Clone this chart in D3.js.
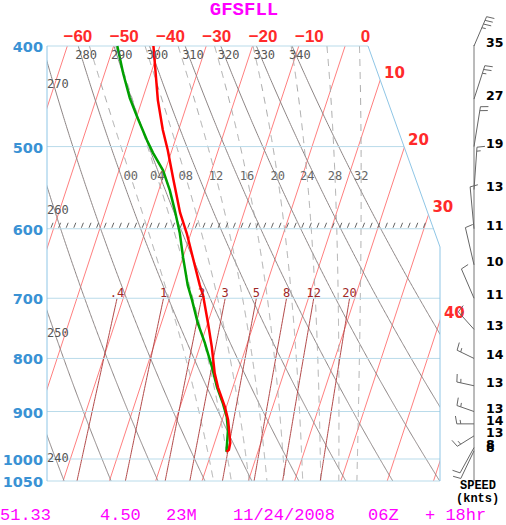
<!DOCTYPE html>
<html>
<head>
<meta charset="utf-8">
<script src="https://cdn.jsdelivr.net/npm/d3@7.9.0/dist/d3.min.js"></script>
<style>
  body { margin: 0; background: #fff; }
  svg { display: block; }
</style>
</head>
<body>
<svg id="chart" width="506" height="525"></svg>
<script>
// ---- chart values ----
const isobars = [400, 500, 600, 700, 800, 900, 1000, 1050];
const isotherms = [-100, -90, -80, -70, -60, -50, -40, -30, -20, -10, 0, 10, 20, 30, 40, 50];
const topTempLabels = [-60, -50, -40, -30, -20, -10, 0];
const sideTempLabels = [10, 20, 30, 40];
const dryAdiabats = [240, 250, 260, 270, 280, 290, 300, 310, 320, 330, 340];
const moistAdiabats = [0, 4, 8, 12, 16, 20, 24, 28, 32];
const moistLabels = ['00', '04', '08', '12', '16', '20', '24', '28', '32'];
const mixingRatios = [0.4, 1, 2, 3, 5, 8, 12, 20];
const mixingLabels = ['.4', '1', '2', '3', '5', '8', '12', '20'];
const hatchLevel = 600;

// temperature profile (hPa, degC)
const tempP = [400, 451, 482, 504, 538, 579, 606, 680, 695, 740, 780, 827, 853, 891, 917, 965, 980, 984];
const tempC = [-41.4, -36.6, -33.4, -30.9, -27.6, -23.8, -20.9, -14.4, -13.0, -9.9, -7.4, -4.9, -3.2, -0.3, 1.3, 3.4, 3.6, 3.2];
// dewpoint profile (hPa, degC)
const dewP = [400, 425, 449, 468, 493, 507, 527, 551, 576, 606, 639, 680, 703, 740, 773, 816, 853, 884, 911, 938, 984];
const dewC = [-49.2, -46.0, -42.8, -39.9, -36.1, -33.9, -30.5, -27.6, -25.1, -22.4, -20.0, -17.0, -15.0, -12.1, -9.2, -5.9, -3.4, -1.0, 0.8, 2.0, 3.2];

// winds
const windP = [400, 450, 500, 550, 600, 650, 700, 750, 800, 850, 900, 925, 950, 975, 982];
const windDir = [47, 39, 22, 10, 347, 330, 313, 294, 281, 275, 278, 270, 256, 234, 230];
const windSpd = [35, 27, 19, 13, 11, 10, 11, 13, 14, 13, 13, 14, 13, 8, 8];

const footer = [
  { text: '51.33', x: 0 }, { text: '4.50', x: 100 }, { text: '23M', x: 166 },
  { text: '11/24/2008', x: 233 }, { text: '06Z', x: 368 }, { text: '+ 18hr', x: 425 }
];

// ---- layout ----
const svg = d3.select('#chart');
const left = 47, topRight = 368, breakX = 440, breakY = 247;

const y = d3.scaleLog().domain([400, 1050]).range([46, 481]);
const xBottom = d3.scaleLinear().domain([0, 40]).range([202, 387.2]);
const skew = 0.329;
const X = (t, p) => xBottom(t) + skew * (y(1050) - y(p));

const rightEdge = (yy) => yy < breakY
  ? topRight + (breakX - topRight) * (yy - y(400)) / (breakY - y(400))
  : breakX;

const samples = d3.range(400, 1050.1, 2);
const line = d3.line().x(d => d[0]).y(d => d[1]);

svg.append('clipPath').attr('id', 'plot')
  .append('polygon')
  .attr('points', [[left, y(400)], [topRight, y(400)], [breakX, breakY], [breakX, y(1050)], [left, y(1050)]].join(' '));

const g = svg.append('g').attr('clip-path', 'url(#plot)');

// isobars
svg.append('g').selectAll('line').data(isobars).join('line')
  .attr('x1', left).attr('x2', p => rightEdge(y(p)))
  .attr('y1', p => y(p)).attr('y2', p => y(p))
  .attr('stroke', '#b9dbea').attr('stroke-width', 1);

// isotherms
g.append('g').selectAll('path').data(isotherms).join('path')
  .attr('d', t => line([[X(t, 1050), y(1050)], [X(t, 400), y(400)]]))
  .attr('stroke', '#ff7f7f').attr('fill', 'none').attr('stroke-width', 1);

// dry adiabats
const dryT = (th, p) => th * Math.pow(p / 1000, 0.2857) - 273.15;
g.append('g').selectAll('path').data(dryAdiabats).join('path')
  .attr('d', th => line(samples.map(p => [X(dryT(th, p), p), y(p)])))
  .attr('stroke', '#8c8484').attr('fill', 'none').attr('stroke-width', 1);

// moist adiabats (pseudo-adiabatic integration from 1000 hPa)
function esat(tc) { return 6.112 * Math.exp(17.67 * tc / (tc + 243.5)); }
function dTdp(p, T) {
  const es = esat(T - 273.15), rs = 0.622 * es / (p - es);
  const Rd = 287.04, cp = 1005.7, Lv = 2.501e6;
  return (Rd * T + Lv * rs) / (p * (cp + Lv * Lv * rs * 0.622 / (Rd * T * T)));
}
function moistProfile(thw) {
  const pts = new Map();
  [[-1, 400], [1, 1050]].forEach(([dir, end]) => {
    let T = thw + 273.15, p = 1000;
    pts.set(1000, T);
    while (dir < 0 ? p > end : p < end) {
      const dp = dir * 1;
      const k1 = dTdp(p, T), k2 = dTdp(p + dp / 2, T + k1 * dp / 2);
      T += k2 * dp; p += dp;
      pts.set(p, T);
    }
  });
  return Array.from(pts.entries()).sort((a, b) => a[0] - b[0]);
}
const moistData = moistAdiabats.map(moistProfile);
g.append('g').selectAll('path').data(moistData).join('path')
  .attr('d', prof => line(prof.map(([p, T]) => [X(T - 273.15, p), y(p)])))
  .attr('stroke', '#a8a8a8').attr('fill', 'none').attr('stroke-width', 1)
  .attr('stroke-dasharray', '7,6');

// mixing ratio lines (1050 -> 700 hPa)
const mixT = (w, p) => {
  const l = Math.log((w * p / (622 + w)) / 6.112);
  return 243.5 * l / (17.67 - l);
};
const mixSamples = d3.range(700, 1050.1, 5);
g.append('g').selectAll('path').data(mixingRatios).join('path')
  .attr('d', w => line(mixSamples.map(p => [X(mixT(w, p), p), y(p)])))
  .attr('stroke', '#b34a4a').attr('fill', 'none').attr('stroke-width', 1);

// hatch ticks along the 600 hPa line
g.append('g').selectAll('line').data(d3.range(51, 425, 7.6)).join('line')
  .attr('x1', d => d).attr('x2', d => d + 2)
  .attr('y1', y(hatchLevel) - 1).attr('y2', y(hatchLevel) - 6)
  .attr('stroke', '#666').attr('stroke-width', 1);

// frame
svg.append('path')
  .attr('d', line([[topRight, y(400)], [breakX, breakY], [breakX, y(1050)]]))
  .attr('stroke', '#8fc6e6').attr('fill', 'none');
svg.append('line').attr('x1', left).attr('x2', left).attr('y1', y(400)).attr('y2', y(1050))
  .attr('stroke', '#8fc6e6');

// profiles
const profLine = d3.line().x(d => X(d[1], d[0])).y(d => y(d[0]));
svg.append('path').datum(dewP.map((p, i) => [p, dewC[i]]))
  .attr('d', profLine).attr('stroke', '#00a000').attr('stroke-width', 2.5).attr('fill', 'none');
svg.append('path').datum(tempP.map((p, i) => [p, tempC[i]]))
  .attr('d', profLine).attr('stroke', '#ff0000').attr('stroke-width', 2.5).attr('fill', 'none');

// ---- labels ----
const minus = s => String(s).replace('-', '\u2212');

svg.append('g').selectAll('text').data(isobars).join('text')
  .attr('x', 43).attr('y', p => y(p) + 6).attr('text-anchor', 'end')
  .attr('font-family', 'DejaVu Sans').attr('font-weight', 'bold').attr('font-size', 14.5)
  .attr('fill', '#3a92d4').text(p => p);

svg.append('g').selectAll('text').data(topTempLabels).join('text')
  .attr('x', t => X(t, 400) + 25).attr('y', 42).attr('text-anchor', 'end')
  .attr('font-family', 'Liberation Sans').attr('font-weight', 'bold').attr('font-size', 17)
  .attr('fill', '#ff2a2a').text(t => minus(t));

function edgeHit(t) {
  for (const p of samples) {
    if (X(t, p) <= rightEdge(y(p))) return [X(t, p), y(p)];
  }
  return null;
}
svg.append('g').selectAll('text').data(sideTempLabels).join('text')
  .attr('x', t => edgeHit(t)[0] + 4).attr('y', t => edgeHit(t)[1] - 3)
  .attr('font-family', 'DejaVu Sans').attr('font-weight', 'bold').attr('font-size', 15)
  .attr('fill', '#ff2a2a').text(t => t);

// dry adiabat labels
const dryLab = svg.append('g').attr('font-family', 'DejaVu Sans Mono').attr('font-size', 12).attr('fill', '#555');
dryAdiabats.forEach(th => {
  const xt = X(dryT(th, 400), 400);
  if (xt >= left) {
    dryLab.append('text').attr('x', xt - 3).attr('y', 59).text(th);
  } else {
    const p = samples.find(p => X(dryT(th, p), p) >= left);
    dryLab.append('text').attr('x', left).attr('y', y(p) + 26).text(th);
  }
});

// moist adiabat labels at 535 hPa
svg.append('g').selectAll('text').data(moistData).join('text')
  .attr('x', prof => { const r = prof.find(d => d[0] === 535); return X(r[1] - 273.15, 535); })
  .attr('y', 180).attr('text-anchor', 'middle')
  .attr('font-family', 'DejaVu Sans Mono').attr('font-size', 12).attr('fill', '#666')
  .text((_, i) => moistLabels[i]);

// mixing ratio labels at 700 hPa
svg.append('g').selectAll('text').data(mixingRatios).join('text')
  .attr('x', w => X(mixT(w, 700), 700)).attr('y', 297).attr('text-anchor', 'middle')
  .attr('font-family', 'DejaVu Sans Mono').attr('font-size', 12).attr('fill', '#a02828')
  .text((_, i) => mixingLabels[i]);

// ---- wind barbs ----
const staffX = 474, sx = 0.4, shaftLen = 43, featherLen = 8, featherGap = 4, featherTurn = 80;
svg.append('line').attr('x1', staffX).attr('x2', staffX)
  .attr('y1', y(400) - 1).attr('y2', y(1050)).attr('stroke', '#777');

const barbs = svg.append('g').attr('stroke', '#666').attr('stroke-width', 1).attr('fill', 'none');
windP.forEach((p, i) => {
  const by = y(p), a = windDir[i] * Math.PI / 180;
  // shaft end in screen space (x compressed)
  const tx = staffX + sx * shaftLen * Math.sin(a), ty = by - shaftLen * Math.cos(a);
  const len = Math.hypot(tx - staffX, ty - by);
  const ux = (tx - staffX) / len, uy = (ty - by) / len;
  const r = featherTurn * Math.PI / 180;
  const fx = ux * Math.cos(r) - uy * Math.sin(r), fy = ux * Math.sin(r) + uy * Math.cos(r);
  const segs = [[[staffX, by], [tx, ty]]];
  const spd = Math.round(windSpd[i] / 5) * 5;
  const full = Math.floor(spd / 10), half = (spd % 10) >= 5 ? 1 : 0;
  let pos = len;
  if (full === 0 && half) pos -= featherGap;
  const at = d => [staffX + ux * d, by + uy * d];
  for (let k = 0; k < full; k++) {
    const s = at(pos);
    segs.push([s, [s[0] + fx * featherLen, s[1] + fy * featherLen]]);
    pos -= featherGap;
  }
  if (half) {
    const s = at(pos);
    segs.push([s, [s[0] + fx * featherLen / 2, s[1] + fy * featherLen / 2]]);
  }
  segs.forEach(s => barbs.append('path').attr('d', line(s)));
});

svg.append('g').selectAll('text').data(windSpd).join('text')
  .attr('x', 486).attr('y', (_, i) => y(windP[i]) + 1)
  .attr('font-family', 'DejaVu Sans').attr('font-weight', 'bold').attr('font-size', 12.5)
  .attr('fill', '#000').text(d => d);

svg.append('text').attr('x', 460).attr('y', 489)
  .attr('font-family', 'Liberation Mono').attr('font-weight', 'bold').attr('font-size', 12)
  .text('SPEED');
svg.append('text').attr('x', 456).attr('y', 501.5)
  .attr('font-family', 'Liberation Mono').attr('font-weight', 'bold').attr('font-size', 12)
  .text('(knts)');

// title and footer
svg.append('text').attr('x', 244).attr('y', 15).attr('text-anchor', 'middle')
  .attr('font-family', 'Liberation Mono').attr('font-weight', 'bold').attr('font-size', 19)
  .attr('fill', '#ff00ff').text('GFSFLL');

svg.append('g').selectAll('text').data(footer).join('text')
  .attr('x', d => d.x).attr('y', 519.5)
  .attr('font-family', 'Liberation Mono').attr('font-size', 17)
  .attr('fill', '#ff00ff').text(d => d.text);
</script>
</body>
</html>
